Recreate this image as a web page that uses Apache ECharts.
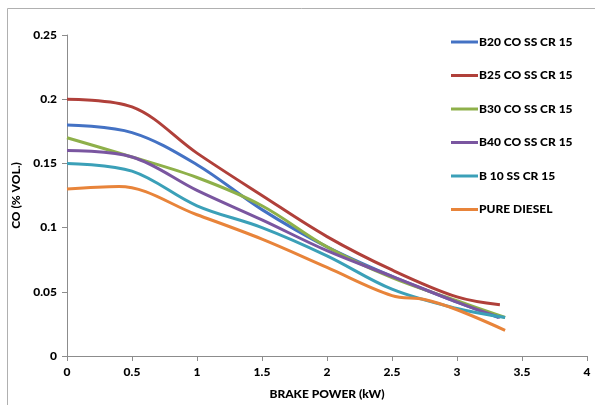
<!DOCTYPE html>
<html>
<head>
<meta charset="utf-8">
<script src="https://cdn.jsdelivr.net/npm/echarts@6/dist/echarts.min.js"></script>
<style>html,body{margin:0;padding:0;background:#fff}#c{width:595px;height:405px}</style>
</head>
<body>
<div id="c"></div>
<script>
const seriesNames = ['B20 CO SS CR 15','B25 CO SS CR 15','B30 CO SS CR 15','B40 CO SS CR 15','B 10 SS CR 15','PURE DIESEL'];
const colors = ['#4472C4','#B0403A','#8EB04A','#7A56A0','#3BA0B8','#E8843A'];

const b20X = [0, 0.5, 1, 1.5, 2, 2.5, 3, 3.32];
const b20Y = [0.180, 0.174, 0.149, 0.114, 0.085, 0.062, 0.042, 0.030];
const b25X = [0, 0.5, 1, 1.5, 2, 2.5, 3, 3.33];
const b25Y = [0.200, 0.194, 0.158, 0.125, 0.093, 0.067, 0.046, 0.040];
const b30X = [0, 0.5, 1, 1.5, 2, 2.5, 3, 3.37];
const b30Y = [0.170, 0.155, 0.139, 0.117, 0.085, 0.061, 0.043, 0.030];
const b40X = [0, 0.5, 1, 1.5, 2, 2.5, 3, 3.33];
const b40Y = [0.160, 0.155, 0.129, 0.106, 0.082, 0.062, 0.042, 0.030];
const b10X = [0, 0.5, 1, 1.5, 2, 2.5, 3, 3.37];
const b10Y = [0.150, 0.144, 0.117, 0.100, 0.078, 0.052, 0.037, 0.030];
const dieselX = [0, 0.4, 1, 1.5, 2, 2.5, 2.75, 3, 3.37];
const dieselY = [0.130, 0.132, 0.110, 0.091, 0.069, 0.047, 0.044, 0.036, 0.020];

const xs = [b20X, b25X, b30X, b40X, b10X, dieselX];
const ys = [b20Y, b25Y, b30Y, b40Y, b10Y, dieselY];

const font = 'Lato, "Open Sans", sans-serif';
const chart = echarts.init(document.getElementById('c'), null, {renderer: 'canvas'});
chart.setOption({
  animation: false,
  backgroundColor: '#fff',
  graphic: [
    {type: 'line', shape: {x1: 7.5, y1: 8.5, x2: 7.5, y2: 405}, style: {stroke: '#b0b0b0', lineWidth: 1}},
    {type: 'line', shape: {x1: 7.5, y1: 8.5, x2: 595, y2: 8.5}, style: {stroke: '#b0b0b0', lineWidth: 1}}
  ],
  grid: {left: 67, right: 8, top: 35, bottom: 42, containLabel: false},
  legend: {
    orient: 'vertical', left: 446, top: 31, itemGap: 21.5, itemWidth: 27, itemHeight: 3,
    icon: 'rect',
    textStyle: {fontFamily: font, fontWeight: 900, fontSize: 12, color: '#000', padding: [0,0,0,-4]},
    data: seriesNames
  },
  xAxis: {
    type: 'value', min: 0, max: 4, interval: 0.5,
    name: 'BRAKE POWER (kW)', nameLocation: 'middle', nameGap: 32,
    nameTextStyle: {fontFamily: font, fontWeight: 900, fontSize: 12, color: '#000'},
    axisLine: {show: true, lineStyle: {color: '#8c8c8c', width: 1}},
    axisTick: {show: true, length: 5, lineStyle: {color: '#8c8c8c'}},
    axisLabel: {fontFamily: font, fontWeight: 900, fontSize: 12, color: '#000', margin: 10},
    splitLine: {show: false}
  },
  yAxis: {
    type: 'value', min: 0, max: 0.25, interval: 0.05,
    name: 'CO (% VOL.)', nameLocation: 'middle', nameGap: 42, nameRotate: 90,
    nameTextStyle: {fontFamily: font, fontWeight: 900, fontSize: 12, color: '#000'},
    axisLine: {show: true, lineStyle: {color: '#8c8c8c', width: 1}},
    axisTick: {show: true, length: 5, lineStyle: {color: '#8c8c8c'}},
    axisLabel: {fontFamily: font, fontWeight: 900, fontSize: 12, color: '#000', margin: 10,
      formatter: v => String(+v.toFixed(2))},
    splitLine: {show: false}
  },
  series: seriesNames.map((n, i) => ({
    name: n, type: 'line', smooth: 0.35, showSymbol: false, symbol: 'none',
    lineStyle: {width: 3, color: colors[i]}, itemStyle: {color: colors[i]},
    data: xs[i].map((x, j) => [x, ys[i][j]])
  }))
});
</script>
</body>
</html>
